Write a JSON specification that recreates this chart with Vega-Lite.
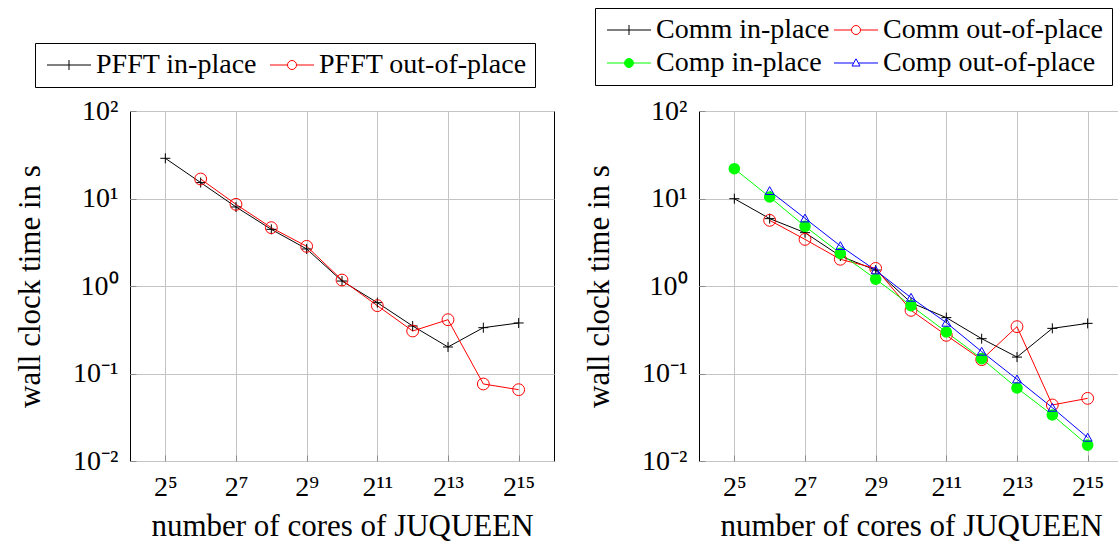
{
  "$schema": "https://vega.github.io/schema/vega-lite/v6.json",
  "padding": {"left": 14, "top": 7, "right": 0, "bottom": 0},
  "background": "white",
  "datasets": {
    "left": [
      {"cores": 32, "time": 28.8, "series": "PFFT in-place"},
      {"cores": 64, "time": 15.2, "series": "PFFT in-place"},
      {"cores": 128, "time": 8.0, "series": "PFFT in-place"},
      {"cores": 256, "time": 4.44, "series": "PFFT in-place"},
      {"cores": 512, "time": 2.65, "series": "PFFT in-place"},
      {"cores": 1024, "time": 1.14, "series": "PFFT in-place"},
      {"cores": 2048, "time": 0.645, "series": "PFFT in-place"},
      {"cores": 4096, "time": 0.349, "series": "PFFT in-place"},
      {"cores": 8192, "time": 0.201, "series": "PFFT in-place"},
      {"cores": 16384, "time": 0.334, "series": "PFFT in-place"},
      {"cores": 32768, "time": 0.378, "series": "PFFT in-place"},
      {"cores": 64, "time": 16.7, "series": "PFFT out-of-place"},
      {"cores": 128, "time": 8.57, "series": "PFFT out-of-place"},
      {"cores": 256, "time": 4.64, "series": "PFFT out-of-place"},
      {"cores": 512, "time": 2.84, "series": "PFFT out-of-place"},
      {"cores": 1024, "time": 1.17, "series": "PFFT out-of-place"},
      {"cores": 2048, "time": 0.596, "series": "PFFT out-of-place"},
      {"cores": 4096, "time": 0.306, "series": "PFFT out-of-place"},
      {"cores": 8192, "time": 0.412, "series": "PFFT out-of-place"},
      {"cores": 16384, "time": 0.0759, "series": "PFFT out-of-place"},
      {"cores": 32768, "time": 0.0653, "series": "PFFT out-of-place"}
    ],
    "right": [
      {"cores": 32, "time": 9.95, "series": "Comm in-place"},
      {"cores": 64, "time": 5.89, "series": "Comm in-place"},
      {"cores": 128, "time": 4.07, "series": "Comm in-place"},
      {"cores": 256, "time": 2.2, "series": "Comm in-place"},
      {"cores": 512, "time": 1.52, "series": "Comm in-place"},
      {"cores": 1024, "time": 0.645, "series": "Comm in-place"},
      {"cores": 2048, "time": 0.435, "series": "Comm in-place"},
      {"cores": 4096, "time": 0.25, "series": "Comm in-place"},
      {"cores": 8192, "time": 0.154, "series": "Comm in-place"},
      {"cores": 16384, "time": 0.328, "series": "Comm in-place"},
      {"cores": 32768, "time": 0.374, "series": "Comm in-place"},
      {"cores": 64, "time": 5.63, "series": "Comm out-of-place"},
      {"cores": 128, "time": 3.41, "series": "Comm out-of-place"},
      {"cores": 256, "time": 2.02, "series": "Comm out-of-place"},
      {"cores": 512, "time": 1.59, "series": "Comm out-of-place"},
      {"cores": 1024, "time": 0.527, "series": "Comm out-of-place"},
      {"cores": 2048, "time": 0.273, "series": "Comm out-of-place"},
      {"cores": 4096, "time": 0.144, "series": "Comm out-of-place"},
      {"cores": 8192, "time": 0.343, "series": "Comm out-of-place"},
      {"cores": 16384, "time": 0.0437, "series": "Comm out-of-place"},
      {"cores": 32768, "time": 0.052, "series": "Comm out-of-place"},
      {"cores": 32, "time": 21.9, "series": "Comp in-place"},
      {"cores": 64, "time": 10.4, "series": "Comp in-place"},
      {"cores": 128, "time": 4.81, "series": "Comp in-place"},
      {"cores": 256, "time": 2.36, "series": "Comp in-place"},
      {"cores": 512, "time": 1.2, "series": "Comp in-place"},
      {"cores": 1024, "time": 0.596, "series": "Comp in-place"},
      {"cores": 2048, "time": 0.298, "series": "Comp in-place"},
      {"cores": 4096, "time": 0.148, "series": "Comp in-place"},
      {"cores": 8192, "time": 0.0683, "series": "Comp in-place"},
      {"cores": 16384, "time": 0.0336, "series": "Comp in-place"},
      {"cores": 32768, "time": 0.0152, "series": "Comp in-place"},
      {"cores": 64, "time": 12.2, "series": "Comp out-of-place"},
      {"cores": 128, "time": 5.93, "series": "Comp out-of-place"},
      {"cores": 256, "time": 2.87, "series": "Comp out-of-place"},
      {"cores": 512, "time": 1.51, "series": "Comp out-of-place"},
      {"cores": 1024, "time": 0.736, "series": "Comp out-of-place"},
      {"cores": 2048, "time": 0.381, "series": "Comp out-of-place"},
      {"cores": 4096, "time": 0.178, "series": "Comp out-of-place"},
      {"cores": 8192, "time": 0.0858, "series": "Comp out-of-place"},
      {"cores": 16384, "time": 0.0407, "series": "Comp out-of-place"},
      {"cores": 32768, "time": 0.0185, "series": "Comp out-of-place"}
    ]
  },
  "bounds": "flush",
  "spacing": 145,
  "resolve": {
    "scale": {"color": "independent", "shape": "independent", "fill": "independent"},
    "legend": {"color": "independent", "shape": "independent", "fill": "independent"}
  },
  "hconcat": [
    {
      "width": 424,
      "height": 350,
      "data": {"name": "left"},
      "encoding": {
        "x": {"field": "cores", "type": "quantitative", "title": "number of cores of JUQUEEN",
          "scale": {"type": "log", "base": 2, "domain": [16, 65536], "nice": false},
          "axis": {"values": [32, 128, 512, 2048, 8192, 32768],
            "labelExpr": "datum.value == 32 ? '2⁵' : datum.value == 128 ? '2⁷' : datum.value == 512 ? '2⁹' : datum.value == 2048 ? '2¹¹' : datum.value == 8192 ? '2¹³' : '2¹⁵'"}},
        "y": {"field": "time", "type": "quantitative", "title": "wall clock time in s",
          "scale": {"type": "log", "domain": [0.01, 100], "nice": false},
          "axis": {"values": [0.01, 0.1, 1, 10, 100],
            "labelExpr": "datum.value < 0.05 ? '10⁻²' : datum.value < 0.5 ? '10⁻¹' : datum.value < 5 ? '10⁰' : datum.value < 50 ? '10¹' : '10²'"}}
      },
      "layer": [
        {
          "mark": {"type": "line", "strokeWidth": 1},
          "encoding": {
            "color": {"field": "series", "type": "nominal",
              "scale": {"domain": ["PFFT in-place", "PFFT out-of-place"], "range": ["#000000", "#ff0000"]},
              "legend": {"title": null, "orient": "none", "legendX": -95, "legendY": -68, "columns": 2, "direction": "horizontal", "columnPadding": 9}}
          }
        },
        {
          "mark": {"type": "point", "filled": false, "opacity": 0, "strokeWidth": 1},
          "encoding": {
            "color": {"field": "series", "type": "nominal",
              "legend": {"title": null, "orient": "none", "legendX": -95, "legendY": -68, "columns": 2, "direction": "horizontal", "columnPadding": 9}},
            "shape": {"field": "series", "type": "nominal",
              "scale": {"domain": ["PFFT in-place", "PFFT out-of-place"], "range": ["M-1,0L3.4,0M1.2,-0.5L1.2,0.5", "M-1,0L0.75,0M1.65,0L3.4,0M1.65,0C1.65,0.2485 1.4485,0.45 1.2,0.45C0.9515,0.45 0.75,0.2485 0.75,0C0.75,-0.2485 0.9515,-0.45 1.2,-0.45C1.4485,-0.45 1.65,-0.2485 1.65,0Z"]},
              "legend": {"title": null, "orient": "none", "legendX": -95, "legendY": -68, "columns": 2, "direction": "horizontal", "columnPadding": 9}}
          }
        },
        {
          "transform": [{"filter": "datum.series === 'PFFT in-place'"}],
          "mark": {"type": "point", "shape": "M-0.88,0L0.88,0M0,-0.88L0,0.88", "filled": false, "color": "#000000", "strokeWidth": 1, "opacity": 1, "size": 130}
        },
        {
          "transform": [{"filter": "datum.series === 'PFFT out-of-place'"}],
          "mark": {"type": "point", "shape": "circle", "filled": false, "color": "#ff0000", "strokeWidth": 1, "opacity": 1, "size": 140}
        }
      ]
    },
    {
      "width": 424,
      "height": 350,
      "data": {"name": "right"},
      "encoding": {
        "x": {"field": "cores", "type": "quantitative", "title": "number of cores of JUQUEEN",
          "scale": {"type": "log", "base": 2, "domain": [16, 65536], "nice": false},
          "axis": {"values": [32, 128, 512, 2048, 8192, 32768],
            "labelExpr": "datum.value == 32 ? '2⁵' : datum.value == 128 ? '2⁷' : datum.value == 512 ? '2⁹' : datum.value == 2048 ? '2¹¹' : datum.value == 8192 ? '2¹³' : '2¹⁵'"}},
        "y": {"field": "time", "type": "quantitative", "title": "wall clock time in s",
          "scale": {"type": "log", "domain": [0.01, 100], "nice": false},
          "axis": {"values": [0.01, 0.1, 1, 10, 100],
            "labelExpr": "datum.value < 0.05 ? '10⁻²' : datum.value < 0.5 ? '10⁻¹' : datum.value < 5 ? '10⁰' : datum.value < 50 ? '10¹' : '10²'"}}
      },
      "layer": [
        {
          "mark": {"type": "line", "strokeWidth": 1},
          "encoding": {
            "color": {"field": "series", "type": "nominal",
              "scale": {"domain": ["Comm in-place", "Comm out-of-place", "Comp in-place", "Comp out-of-place"], "range": ["#000000", "#ff0000", "#00ff00", "#0000ff"]},
              "legend": {"title": null, "orient": "none", "legendX": -104, "legendY": -103, "columns": 2, "direction": "horizontal", "columnPadding": 0}}
          }
        },
        {
          "mark": {"type": "point", "filled": false, "opacity": 0, "strokeWidth": 1},
          "encoding": {
            "color": {"field": "series", "type": "nominal",
              "legend": {"title": null, "orient": "none", "legendX": -104, "legendY": -103, "columns": 2, "direction": "horizontal", "columnPadding": 0}},
            "shape": {"field": "series", "type": "nominal",
              "scale": {"domain": ["Comm in-place", "Comm out-of-place", "Comp in-place", "Comp out-of-place"], "range": ["M-1,0L3.4,0M1.2,-0.5L1.2,0.5", "M-1,0L0.75,0M1.65,0L3.4,0M1.65,0C1.65,0.2485 1.4485,0.45 1.2,0.45C0.9515,0.45 0.75,0.2485 0.75,0C0.75,-0.2485 0.9515,-0.45 1.2,-0.45C1.4485,-0.45 1.65,-0.2485 1.65,0Z", "M-1,0L0.75,0M1.65,0L3.4,0M1.65,0C1.65,0.2485 1.4485,0.45 1.2,0.45C0.9515,0.45 0.75,0.2485 0.75,0C0.75,-0.2485 0.9515,-0.45 1.2,-0.45C1.4485,-0.45 1.65,-0.2485 1.65,0Z", "M-1,0L0.97,0M1.43,0L3.4,0M1.2,-0.42L1.6,0.3L0.8,0.3Z"]},
              "legend": {"title": null, "orient": "none", "legendX": -104, "legendY": -103, "columns": 2, "direction": "horizontal", "columnPadding": 0}},
            "fill": {"field": "series", "type": "nominal",
              "scale": {"domain": ["Comm in-place", "Comm out-of-place", "Comp in-place", "Comp out-of-place"], "range": ["transparent", "transparent", "#00ff00", "transparent"]},
              "legend": {"title": null, "orient": "none", "legendX": -104, "legendY": -103, "columns": 2, "direction": "horizontal", "columnPadding": 0}}
          }
        },
        {
          "transform": [{"filter": "datum.series === 'Comm in-place'"}],
          "mark": {"type": "point", "shape": "M-0.88,0L0.88,0M0,-0.88L0,0.88", "filled": false, "color": "#000000", "strokeWidth": 1, "opacity": 1, "size": 130}
        },
        {
          "transform": [{"filter": "datum.series === 'Comm out-of-place'"}],
          "mark": {"type": "point", "shape": "circle", "filled": false, "color": "#ff0000", "strokeWidth": 1, "opacity": 1, "size": 140}
        },
        {
          "transform": [{"filter": "datum.series === 'Comp in-place'"}],
          "mark": {"type": "point", "shape": "circle", "filled": true, "color": "#00ff00", "opacity": 1, "size": 135}
        },
        {
          "transform": [{"filter": "datum.series === 'Comp out-of-place'"}],
          "mark": {"type": "point", "shape": "M0,-0.75L0.78,0.62L-0.78,0.62Z", "filled": false, "color": "#0000ff", "strokeWidth": 1, "opacity": 1, "size": 130}
        }
      ]
    }
  ],
  "config": {
    "font": "Liberation Serif",
    "view": {"stroke": "#000000", "strokeWidth": 1},
    "axis": {
      "labelFont": "Liberation Serif", "labelFontSize": 28, "labelColor": "#000000", "labelPadding": 18,
      "titleFont": "Liberation Serif", "titleFontSize": 31, "titleFontWeight": "normal", "titleColor": "#000000", "titlePadding": 10,
      "domain": false, "ticks": true, "tickSize": -6, "tickColor": "#8c8c8c", "tickWidth": 1,
      "grid": true, "gridColor": "#c4c4c4", "gridOpacity": 1, "gridWidth": 1
    },
    "axisY": {"titlePadding": 26},
    "legend": {
      "labelFont": "Liberation Serif", "labelFontSize": 28, "labelColor": "#000000", "labelLimit": 600,
      "strokeColor": "#000000", "fillColor": "#ffffff", "padding": 8,
      "symbolSize": 400, "symbolStrokeWidth": 1, "symbolOpacity": 1, "labelOffset": 25, "rowPadding": 5
    }
  }
}
